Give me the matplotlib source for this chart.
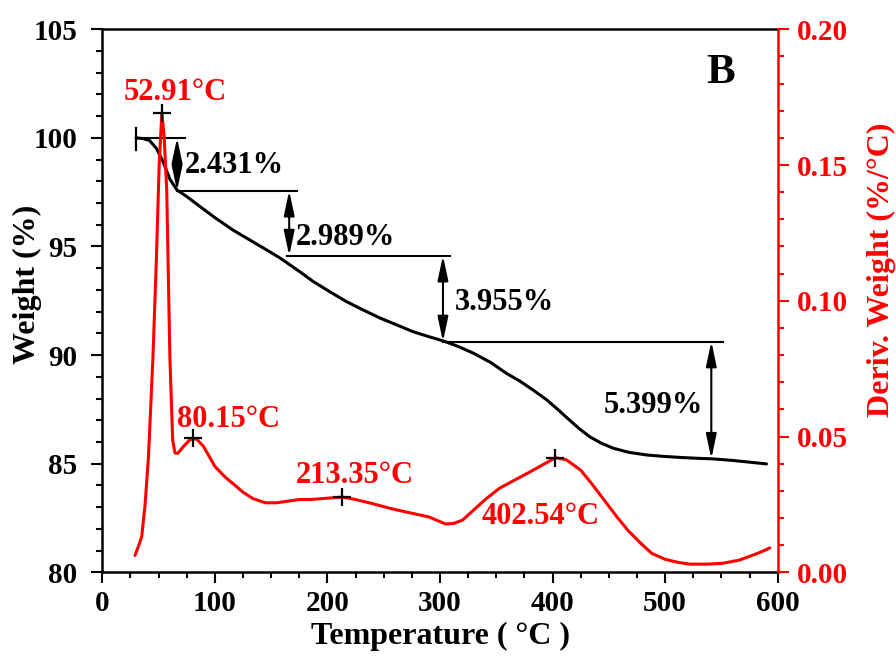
import matplotlib
matplotlib.use('Agg')
import matplotlib.pyplot as plt
from matplotlib.ticker import MultipleLocator, FormatStrFormatter

plt.rcParams['font.family'] = ['Liberation Serif', 'DejaVu Serif']
plt.rcParams['font.weight'] = 'bold'
plt.rcParams['axes.labelweight'] = 'bold'

# TG curve (weight %)
tg_temp = [30, 36, 42, 48, 54, 60, 66.4, 75, 87, 100, 116, 131, 146, 157, 166,
           177, 187, 202, 217, 232, 247, 262, 276, 290, 303, 316, 330, 345,
           359, 371, 383, 395, 405, 415, 424, 433, 443, 454, 468, 484, 498,
           513, 528, 543, 560, 575, 590]
tg_weight = [100.0, 99.97, 99.88, 99.52, 98.9, 98.1, 97.6, 97.3, 96.83, 96.33,
             95.76, 95.3, 94.84, 94.50, 94.18, 93.78, 93.40, 92.92, 92.46,
             92.07, 91.7, 91.38, 91.08, 90.85, 90.65, 90.4, 90.08, 89.66,
             89.16, 88.8, 88.38, 87.93, 87.48, 87.01, 86.6, 86.24, 85.95,
             85.71, 85.52, 85.40, 85.34, 85.29, 85.25, 85.22, 85.15, 85.07, 84.99]

# DTG curve (deriv. weight %/°C)
dtg_temp = [29, 32, 35, 38, 41, 45, 48, 50.5, 52.91, 55, 57.2, 60, 62.5, 64.5,
            67, 72, 77, 80.15, 84, 90, 100, 109, 118, 125, 134, 145, 155, 165,
            175, 185, 200, 213.35, 225, 240, 256, 270, 280, 290, 298, 305, 312,
            320, 330, 341, 353, 366, 380, 393, 402.54, 412, 425, 435, 446, 457,
            467, 478, 488, 500, 512, 522, 537, 551, 566, 581, 588, 593]
dtg_value = [0.0062, 0.0095, 0.0131, 0.025, 0.0426, 0.0794, 0.115, 0.150,
             0.1693, 0.160, 0.141, 0.0794, 0.0487, 0.0440, 0.0438, 0.0463,
             0.0485, 0.0493, 0.0490, 0.0463, 0.0390, 0.0351, 0.0320, 0.0295,
             0.0271, 0.0256, 0.0256, 0.0262, 0.0268, 0.0268, 0.0273, 0.0277,
             0.0268, 0.0253, 0.0235, 0.0222, 0.0213, 0.0204, 0.0190, 0.0178,
             0.0180, 0.0192, 0.0230, 0.0271, 0.0310, 0.0339, 0.0370, 0.0400,
             0.0422, 0.0415, 0.0376, 0.0325, 0.0265, 0.0205, 0.0154, 0.0108,
             0.0070, 0.0048, 0.0036, 0.0030, 0.0030, 0.0033, 0.0045, 0.0068,
             0.0080, 0.0090]

peak_temp = [52.91, 80.15, 213.35, 402.54]
peak_value = [0.1693, 0.0493, 0.0277, 0.0422]
peak_labels = ['52.91°C', '80.15°C', '213.35°C', '402.54°C']
peak_label_pos = [(65, 0.1766), (112, 0.0561), (224, 0.0358), (389, 0.0204)]

# weight loss steps
loss_pct = [2.431, 2.989, 3.955, 5.399]
step_temp = [66.4, 166.0, 302.6, 541.0]          # arrow positions
line_span = [(30, 73.5), (66.4, 172.7), (163.8, 308.8), (303.0, 551.7)]
loss_label_pos = [(73.5, 98.75), (172, 95.4), (313, 92.4), (445, 87.7)]

levels = [100.0]
for p in loss_pct:
    levels.append(levels[-1] - p)

fig = plt.figure(figsize=(8.96, 6.66), dpi=100)
ax = fig.add_axes([0.1142, 0.1407, 0.7538, 0.8153])
ax2 = ax.twinx()

ax.plot(tg_temp, tg_weight, color='black', lw=2.2, solid_capstyle='round')
ax2.plot(dtg_temp, dtg_value, color='red', lw=2.2, solid_capstyle='round')
ax2.plot(peak_temp, peak_value, ls='none', marker='+', ms=13, mew=1.6,
         color='black')
for lab, (tx, ty) in zip(peak_labels, peak_label_pos):
    ax2.text(tx, ty, lab, color='red', fontsize=22, ha='center', va='center')

# horizontal reference lines and double arrows
ax.plot([30, 30], [100.45, 99.45], color='black', lw=1.6)
for lvl, (x0, x1) in zip(levels[:4], line_span):
    ax.plot([x0, x1], [lvl, lvl], color='black', lw=1.5)
for i, t in enumerate(step_temp):
    ax.annotate('', xy=(t, levels[i + 1]), xytext=(t, levels[i]),
                arrowprops=dict(arrowstyle='<|-|>,head_length=0.75,head_width=0.16',
                                color='black', lw=1.5, mutation_scale=20,
                                shrinkA=0, shrinkB=0))
for p, (tx, ty) in zip(loss_pct, loss_label_pos):
    ax.text(tx, ty, '%.3f%%' % p, fontsize=22, ha='left', va='center')

ax.text(549, 103.0, 'B', fontsize=31, ha='center', va='center')

ax.set_xlim(0, 600)
ax.set_ylim(80, 105)
ax2.set_ylim(0, 0.20)
ax.xaxis.set_major_locator(MultipleLocator(100))
ax.xaxis.set_minor_locator(MultipleLocator(25))
ax.yaxis.set_major_locator(MultipleLocator(5))
ax.yaxis.set_minor_locator(MultipleLocator(1))
ax2.yaxis.set_major_locator(MultipleLocator(0.05))
ax2.yaxis.set_minor_locator(MultipleLocator(0.01))
ax2.yaxis.set_major_formatter(FormatStrFormatter('%.2f'))

ax.tick_params(which='major', direction='out', length=8, width=1.5,
               labelsize=21, pad=5)
ax.tick_params(axis='y', which='major', pad=10)
ax.tick_params(which='minor', direction='out', length=4.5, width=1.5)
ax2.tick_params(which='major', direction='out', length=8, width=1.5,
                labelsize=21, pad=6, colors='red')
ax2.tick_params(which='minor', direction='out', length=4.5, width=1.5,
                colors='red')

for s in ['left', 'bottom', 'top']:
    ax.spines[s].set_linewidth(1.8)
    ax2.spines[s].set_visible(False)
ax.spines['right'].set_visible(False)
ax2.spines['right'].set_color('red')
ax2.spines['right'].set_linewidth(1.8)

ax.set_xlabel('Temperature ( °C )', fontsize=23, labelpad=3)
ax.set_ylabel('Weight (%)', fontsize=23)
ax.yaxis.set_label_coords(-0.089, 0.53)
ax2.set_ylabel('Deriv. Weight (%/°C)', fontsize=23, color='red')
ax2.yaxis.set_label_coords(1.132, 0.557)

fig.savefig('out.png', dpi=100)
